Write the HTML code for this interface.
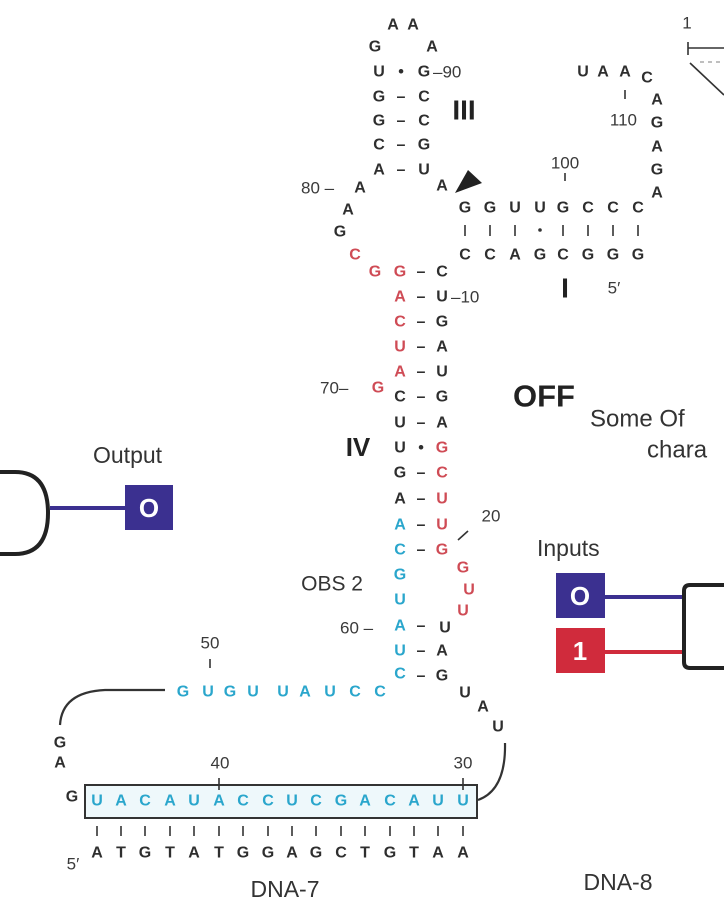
<!DOCTYPE html>
<html><head><meta charset="utf-8"><style>
html,body{margin:0;padding:0;background:#fff;}
svg{display:block}
.n{font-family:"Liberation Sans",sans-serif;font-weight:bold;font-size:16px;text-anchor:middle;dominant-baseline:central;fill:#2e2e2e}
.r{fill:#cf4b55}.c{fill:#2aa6cc}
.l{font-family:"Liberation Sans",sans-serif;font-size:17px;fill:#3a3a3a;dominant-baseline:central}
.big{font-family:"Liberation Sans",sans-serif;font-size:23px;fill:#333;dominant-baseline:central}
.rom{font-family:"Liberation Sans",sans-serif;font-weight:bold;fill:#222;text-anchor:middle;dominant-baseline:central}
</style></head><body>
<svg width="724" height="910" viewBox="0 0 724 910" xmlns="http://www.w3.org/2000/svg">
<g class="n">
<text x="393" y="25">A</text><text x="413" y="25">A</text>
<text x="375" y="47">G</text><text x="432" y="47">A</text>
<text x="379" y="72">U</text><text x="401" y="72">•</text><text x="424" y="72">G</text>
<text x="379" y="97">G</text><text x="401" y="97">–</text><text x="424" y="97">C</text>
<text x="379" y="121">G</text><text x="401" y="121">–</text><text x="424" y="121">C</text>
<text x="379" y="145">C</text><text x="401" y="145">–</text><text x="424" y="145">G</text>
<text x="379" y="170">A</text><text x="401" y="170">–</text><text x="424" y="170">U</text>
<text x="442" y="186">A</text>
<text x="360" y="188">A</text><text x="348" y="210">A</text><text x="340" y="232">G</text>
<text class="n r" x="355" y="255">C</text>
</g>
<text class="l" x="433" y="72">–90</text>
<text class="rom" x="464" y="110" style="font-size:28px">III</text>
<text class="l" x="301" y="188">80 –</text>
<polygon points="455,193 468,170 482,183" fill="#222"/>
<g class="n">
<text x="465" y="208">G</text><text x="490" y="208">G</text><text x="515" y="208">U</text><text x="540" y="208">U</text><text x="563" y="208">G</text><text x="588" y="208">C</text><text x="613" y="208">C</text><text x="638" y="208">C</text>
<text x="465" y="255">C</text><text x="490" y="255">C</text><text x="515" y="255">A</text><text x="540" y="255">G</text><text x="563" y="255">C</text><text x="588" y="255">G</text><text x="613" y="255">G</text><text x="638" y="255">G</text>
<text x="657" y="193">A</text><text x="657" y="170">G</text><text x="657" y="147">A</text><text x="657" y="123">G</text><text x="657" y="100">A</text><text x="647" y="78">C</text>
<text x="583" y="72">U</text><text x="603" y="72">A</text><text x="625" y="72">A</text>
</g>
<g stroke="#333" stroke-width="1.6">
<line x1="465" y1="225" x2="465" y2="236"/><line x1="490" y1="225" x2="490" y2="236"/><line x1="515" y1="225" x2="515" y2="236"/><line x1="563" y1="225" x2="563" y2="236"/><line x1="588" y1="225" x2="588" y2="236"/><line x1="613" y1="225" x2="613" y2="236"/><line x1="638" y1="225" x2="638" y2="236"/>
<line x1="565" y1="173" x2="565" y2="181"/><line x1="625" y1="90" x2="625" y2="99"/>
<line x1="688" y1="42" x2="688" y2="55"/><line x1="688" y1="48" x2="724" y2="48"/>
<line x1="690" y1="63" x2="724" y2="95"/>
</g>
<line x1="700" y1="62" x2="724" y2="62" stroke="#999" stroke-width="1.3" stroke-dasharray="4,4"/>
<circle cx="540" cy="230" r="1.8" fill="#333"/>
<text class="l" x="565" y="163" text-anchor="middle">100</text>
<text class="l" x="637" y="120" text-anchor="end">110</text>
<text class="l" x="687" y="23" text-anchor="middle">1</text>
<text class="rom" x="565" y="288" style="font-size:28px">I</text>
<text class="l" x="614" y="288" text-anchor="middle">5′</text>
<g class="n">
<text class="n r" x="375" y="272">G</text><text class="n r" x="400" y="272">G</text><text x="421" y="272">–</text><text x="442" y="272">C</text>
<text class="n r" x="400" y="297">A</text><text x="421" y="297">–</text><text x="442" y="297">U</text>
<text class="n r" x="400" y="322">C</text><text x="421" y="322">–</text><text x="442" y="322">G</text>
<text class="n r" x="400" y="347">U</text><text x="421" y="347">–</text><text x="442" y="347">A</text>
<text class="n r" x="400" y="372">A</text><text x="421" y="372">–</text><text x="442" y="372">U</text>
<text x="400" y="397">C</text><text x="421" y="397">–</text><text x="442" y="397">G</text>
<text x="400" y="423">U</text><text x="421" y="423">–</text><text x="442" y="423">A</text>
<text x="400" y="448">U</text><text x="421" y="448">•</text><text class="n r" x="442" y="448">G</text>
<text x="400" y="473">G</text><text x="421" y="473">–</text><text class="n r" x="442" y="473">C</text>
<text x="400" y="499">A</text><text x="421" y="499">–</text><text class="n r" x="442" y="499">U</text>
<text class="n c" x="400" y="525">A</text><text x="421" y="525">–</text><text class="n r" x="442" y="525">U</text>
<text class="n c" x="400" y="550">C</text><text x="421" y="550">–</text><text class="n r" x="442" y="550">G</text>
<text class="n c" x="400" y="575">G</text><text class="n r" x="463" y="568">G</text>
<text class="n c" x="400" y="600">U</text><text class="n r" x="469" y="590">U</text>
<text class="n c" x="400" y="626">A</text><text x="421" y="626">–</text><text x="445" y="628">U</text><text class="n r" x="463" y="611">U</text>
<text class="n c" x="400" y="651">U</text><text x="421" y="651">–</text><text x="442" y="651">A</text>
<text class="n c" x="400" y="674">C</text><text x="421" y="676">–</text><text x="442" y="676">G</text>
<text x="465" y="693">U</text><text x="483" y="707">A</text><text x="498" y="727">U</text>
<text class="n r" x="378" y="388">G</text>
</g>
<text class="l" x="451" y="297">–10</text>
<text class="l" x="320" y="388">70–</text>
<text class="rom" x="358" y="447" style="font-size:26px">IV</text>
<text class="l" x="491" y="516" text-anchor="middle">20</text>
<line x1="458" y1="540" x2="468" y2="531" stroke="#333" stroke-width="1.6"/>
<text class="big" x="363" y="584" text-anchor="end" style="font-size:21px">OBS 2</text>
<text class="l" x="340" y="628">60 –</text>
<g class="n c">
<text x="183" y="692">G</text><text x="208" y="692">U</text><text x="230" y="692">G</text><text x="253" y="692">U</text><text x="283" y="692">U</text><text x="305" y="692">A</text><text x="330" y="692">U</text><text x="355" y="692">C</text><text x="380" y="692">C</text>
</g>
<text class="l" x="210" y="643" text-anchor="middle">50</text>
<line x1="210" y1="659" x2="210" y2="668" stroke="#333" stroke-width="1.6"/>
<path d="M165,690 L105,690 Q62,692 60,725" fill="none" stroke="#333" stroke-width="2.2"/>
<path d="M505,743 Q506,790 478,800" fill="none" stroke="#333" stroke-width="2.2"/>
<g class="n"><text x="60" y="743">G</text><text x="60" y="763">A</text><text x="72" y="797">G</text></g>
<rect x="85" y="785" width="392" height="33" fill="#eef8fb" stroke="#333" stroke-width="2"/>
<g class="n c">
<text x="97" y="801">U</text><text x="121" y="801">A</text><text x="145" y="801">C</text><text x="170" y="801">A</text><text x="194" y="801">U</text><text x="219" y="801">A</text><text x="243" y="801">C</text><text x="268" y="801">C</text><text x="292" y="801">U</text><text x="316" y="801">C</text><text x="341" y="801">G</text><text x="365" y="801">A</text><text x="390" y="801">C</text><text x="414" y="801">A</text><text x="438" y="801">U</text><text x="463" y="801">U</text>
</g>
<line x1="219" y1="778" x2="219" y2="790" stroke="#333" stroke-width="1.6"/>
<line x1="463" y1="778" x2="463" y2="790" stroke="#333" stroke-width="1.6"/>
<text class="l" x="220" y="763" text-anchor="middle">40</text>
<text class="l" x="463" y="763" text-anchor="middle">30</text>
<g stroke="#333" stroke-width="1.6">
<line x1="97" y1="826" x2="97" y2="836"/><line x1="121" y1="826" x2="121" y2="836"/><line x1="145" y1="826" x2="145" y2="836"/><line x1="170" y1="826" x2="170" y2="836"/><line x1="194" y1="826" x2="194" y2="836"/><line x1="219" y1="826" x2="219" y2="836"/><line x1="243" y1="826" x2="243" y2="836"/><line x1="268" y1="826" x2="268" y2="836"/><line x1="292" y1="826" x2="292" y2="836"/><line x1="316" y1="826" x2="316" y2="836"/><line x1="341" y1="826" x2="341" y2="836"/><line x1="365" y1="826" x2="365" y2="836"/><line x1="390" y1="826" x2="390" y2="836"/><line x1="414" y1="826" x2="414" y2="836"/><line x1="438" y1="826" x2="438" y2="836"/><line x1="463" y1="826" x2="463" y2="836"/>
</g>
<g class="n">
<text x="97" y="853">A</text><text x="121" y="853">T</text><text x="145" y="853">G</text><text x="170" y="853">T</text><text x="194" y="853">A</text><text x="219" y="853">T</text><text x="243" y="853">G</text><text x="268" y="853">G</text><text x="292" y="853">A</text><text x="316" y="853">G</text><text x="341" y="853">C</text><text x="365" y="853">T</text><text x="390" y="853">G</text><text x="414" y="853">T</text><text x="438" y="853">A</text><text x="463" y="853">A</text>
</g>
<text class="l" x="73" y="864" text-anchor="middle">5′</text>
<text class="big" x="285" y="889" text-anchor="middle">DNA-7</text>
<text class="big" x="618" y="882" text-anchor="middle">DNA-8</text>
<text x="513" y="396" style="font-family:'Liberation Sans',sans-serif;font-weight:bold;font-size:31px;fill:#222;dominant-baseline:central">OFF</text>
<text class="big" x="590" y="419" style="font-size:24px">Some Of</text>
<text class="big" x="647" y="450" style="font-size:24px">chara</text>
<text class="big" x="93" y="455">Output</text>
<path d="M0,472 L15,472 Q48,472 48,513 Q48,554 15,554 L0,554" fill="none" stroke="#222" stroke-width="4"/>
<line x1="50" y1="508" x2="126" y2="508" stroke="#3b3090" stroke-width="4"/>
<rect x="125" y="485" width="48" height="45" fill="#3b3090"/>
<text x="149" y="508" style="font-family:'Liberation Sans',sans-serif;font-weight:bold;font-size:26px;fill:#fff;text-anchor:middle;dominant-baseline:central">O</text>
<text class="big" x="537" y="548">Inputs</text>
<line x1="604" y1="597" x2="684" y2="597" stroke="#3b3090" stroke-width="4"/>
<line x1="604" y1="652" x2="684" y2="652" stroke="#d02b3c" stroke-width="4"/>
<rect x="556" y="573" width="49" height="45" fill="#3b3090"/>
<text x="580" y="596" style="font-family:'Liberation Sans',sans-serif;font-weight:bold;font-size:26px;fill:#fff;text-anchor:middle;dominant-baseline:central">O</text>
<rect x="556" y="628" width="49" height="45" fill="#d02b3c"/>
<text x="580" y="651" style="font-family:'Liberation Sans',sans-serif;font-weight:bold;font-size:26px;fill:#fff;text-anchor:middle;dominant-baseline:central">1</text>
<path d="M730,585 L690,585 Q684,585 684,591 L684,662 Q684,668 690,668 L730,668" fill="none" stroke="#222" stroke-width="4"/>
</svg>
</body></html>
